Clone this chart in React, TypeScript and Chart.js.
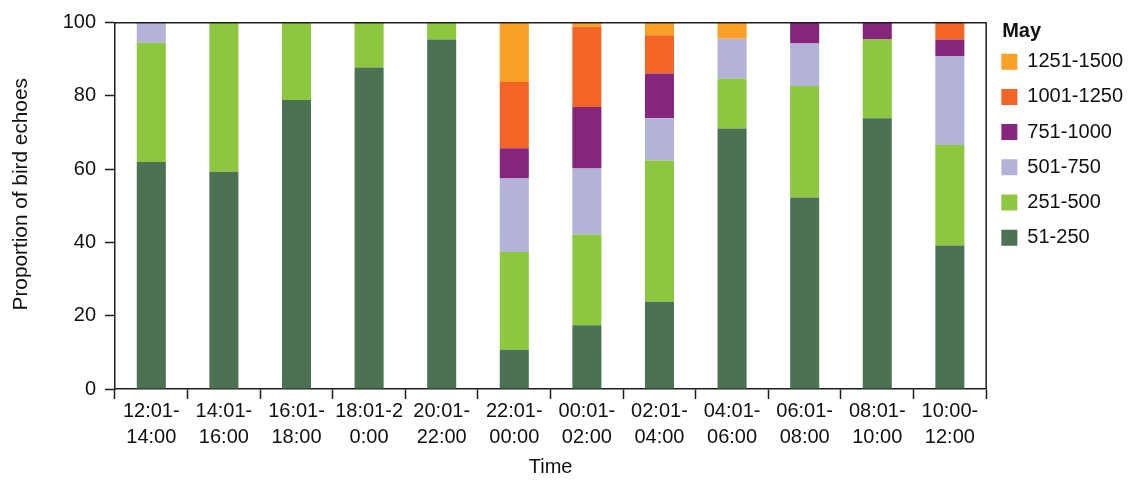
import React, { useEffect, useRef } from "react";
import { Chart, registerables } from "chart.js";

Chart.register(...registerables);

const categories: string[][] = [
  ["12:01-", "14:00"],
  ["14:01-", "16:00"],
  ["16:01-", "18:00"],
  ["18:01-2", "0:00"],
  ["20:01-", "22:00"],
  ["22:01-", "00:00"],
  ["00:01-", "02:00"],
  ["02:01-", "04:00"],
  ["04:01-", "06:00"],
  ["06:01-", "08:00"],
  ["08:01-", "10:00"],
  ["10:00-", "12:00"],
];

const seriesNames = ["51-250", "251-500", "501-750", "751-1000", "1001-1250", "1251-1500"];

const s51_250 = [62.0, 59.3, 78.9, 87.8, 95.4, 10.7, 17.4, 23.8, 71.1, 52.3, 73.9, 39.2];
const s251_500 = [32.5, 40.7, 21.1, 12.2, 4.6, 26.7, 24.8, 38.6, 13.6, 30.4, 21.5, 27.4];
const s501_750 = [5.5, 0, 0, 0, 0, 20.1, 18.0, 11.5, 10.9, 11.6, 0, 24.3];
const s751_1000 = [0, 0, 0, 0, 0, 8.2, 16.8, 12.2, 0, 5.7, 4.6, 4.5];
const s1001_1250 = [0, 0, 0, 0, 0, 18.1, 21.9, 10.5, 0, 0, 0, 4.6];
const s1251_1500 = [0, 0, 0, 0, 0, 16.2, 1.1, 3.4, 4.4, 0, 0, 0];

const yTicks = [0, 20, 40, 60, 80, 100];

const seriesValues = [s51_250, s251_500, s501_750, s751_1000, s1001_1250, s1251_1500];
const seriesColors = ["#4d7153", "#8dc63f", "#b3b3d9", "#85267c", "#f26524", "#faa026"];

const FONT = "'Liberation Sans', Arial, Helvetica, sans-serif";
const TEXT = "#111111";
const AXIS = "#1e1e1e";

const framePlugin = {
  id: "frame",
  afterDraw(chart: any) {
    const { ctx, chartArea } = chart;
    ctx.save();
    ctx.strokeStyle = AXIS;
    ctx.lineWidth = 1.5;
    ctx.beginPath();
    ctx.moveTo(chartArea.left, chartArea.top);
    ctx.lineTo(chartArea.right, chartArea.top);
    ctx.lineTo(chartArea.right, chartArea.bottom);
    ctx.stroke();
    // legend title
    const lg = chart.legend;
    if (lg) {
      ctx.fillStyle = TEXT;
      ctx.font = `bold 20px ${FONT}`;
      ctx.textAlign = "left";
      ctx.textBaseline = "middle";
      ctx.fillText("May", lg.left + 16, lg.top + 9);
    }
    ctx.restore();
  },
};

export default function App() {
  const ref = useRef<HTMLCanvasElement | null>(null);

  useEffect(() => {
    document.body.style.margin = "0";
    if (!ref.current) return;
    Chart.defaults.font.family = FONT;
    Chart.defaults.color = TEXT;
    const chart = new Chart(ref.current, {
      type: "bar",
      data: {
        labels: categories,
        datasets: seriesNames.map((name, i) => ({
          label: name,
          data: seriesValues[i],
          backgroundColor: seriesColors[i],
          borderWidth: 0,
          barPercentage: 0.4,
          categoryPercentage: 1.0,
        })),
      },
      options: {
        animation: false,
        responsive: false,
        devicePixelRatio: 1,
        layout: { padding: { top: 22.7, right: 2, bottom: 0, left: 0 } },
        plugins: {
          tooltip: { enabled: false },
          legend: {
            position: "right",
            align: "start",
            reverse: true,
            title: {
              display: true,
              text: "May",
              color: "rgba(0,0,0,0)",
              font: { size: 10, lineHeight: 1.38 },
              padding: 0,
            },
            labels: {
              boxWidth: 16,
              boxHeight: 16,
              padding: 15.2,
              color: TEXT,
              font: { size: 20 },
            },
          },
        },
        scales: {
          x: {
            stacked: true,
            afterFit: (s: any) => {
              s.height = 91;
            },
            grid: {
              display: true,
              drawOnChartArea: false,
              drawTicks: true,
              tickLength: 10,
              tickColor: AXIS,
              tickWidth: 1.5,
              offset: true,
            },
            border: { display: true, color: AXIS, width: 1.5 },
            ticks: {
              autoSkip: false,
              maxRotation: 0,
              padding: 0,
              color: TEXT,
              font: { size: 20, lineHeight: 1.275 },
            },
            title: {
              display: true,
              text: "Time",
              color: TEXT,
              font: { size: 20 },
              padding: { top: 0, bottom: 1 },
            },
          },
          y: {
            stacked: true,
            min: 0,
            max: 100,
            afterFit: (s: any) => {
              s.width = 115;
            },
            afterBuildTicks: (s: any) => {
              s.ticks = yTicks.map((v) => ({ value: v }));
            },
            grid: {
              display: true,
              drawOnChartArea: false,
              drawTicks: true,
              tickLength: 10,
              tickColor: AXIS,
              tickWidth: 1.5,
            },
            border: { display: true, color: AXIS, width: 1.5 },
            ticks: {
              padding: 9,
              color: TEXT,
              font: { size: 20 },
            },
            title: {
              display: true,
              text: "    Proportion of bird echoes",
              color: TEXT,
              font: { size: 20.8 },
              padding: { top: 9, bottom: 0 },
            },
          },
        },
      },
      plugins: [framePlugin],
    });
    return () => chart.destroy();
  }, []);

  return (
    <div style={{ width: 1135, height: 480 }}>
      <canvas ref={ref} width={1135} height={480} />
    </div>
  );
}
